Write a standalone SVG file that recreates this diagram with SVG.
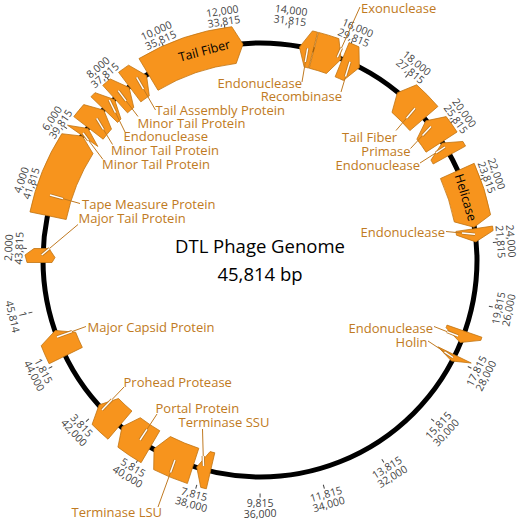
<svg xmlns="http://www.w3.org/2000/svg" width="520" height="520" viewBox="0 0 520 520">
<style>
.gene{fill:#F7941D;stroke:#C07312;stroke-width:0.8;stroke-linejoin:round}
.lbl{font-family:"Open Sans","Liberation Sans",sans-serif;font-size:13px;fill:#C07A22}
.end{text-anchor:end}
.ldr{stroke:#C07A22;stroke-width:1;fill:none}
.lin{stroke:#C07A22;stroke-width:3.2;stroke-linecap:butt}
.lhi{stroke:#FFFFFF;stroke-width:1.4}
.tk{font-family:"Open Sans","Liberation Sans",sans-serif;font-size:10.5px;fill:#444;text-anchor:middle}
.tkm{stroke:#444;stroke-width:1}
.inn{font-family:"Open Sans","Liberation Sans",sans-serif;font-size:12.5px;fill:#000;text-anchor:middle}
.ttl{font-family:"Open Sans","Liberation Sans",sans-serif;font-size:18.5px;fill:#000;text-anchor:middle}
</style>
<rect width="520" height="520" fill="#fff"/>
<circle cx="260" cy="260" r="217" fill="none" stroke="#000" stroke-width="5"/>
<g id="ticks">
<g transform="rotate(-87.18 260 260)"><text class="tk" x="260" y="12"><tspan x="260" y="12">2,000</tspan><tspan x="260" y="22.5">43,815</tspan></text><line class="tkm" x1="260" y1="22.5" x2="260" y2="26.5"/></g>
<g transform="rotate(-71.47 260 260)"><text class="tk" x="260" y="12"><tspan x="260" y="12">4,000</tspan><tspan x="260" y="22.5">41,815</tspan></text><line class="tkm" x1="260" y1="22.5" x2="260" y2="26.5"/></g>
<g transform="rotate(-55.75 260 260)"><text class="tk" x="260" y="12"><tspan x="260" y="12">6,000</tspan><tspan x="260" y="22.5">39,815</tspan></text><line class="tkm" x1="260" y1="22.5" x2="260" y2="26.5"/></g>
<g transform="rotate(-40.04 260 260)"><text class="tk" x="260" y="12"><tspan x="260" y="12">8,000</tspan><tspan x="260" y="22.5">37,815</tspan></text><line class="tkm" x1="260" y1="22.5" x2="260" y2="26.5"/></g>
<g transform="rotate(-24.32 260 260)"><text class="tk" x="260" y="12"><tspan x="260" y="12">10,000</tspan><tspan x="260" y="22.5">35,815</tspan></text><line class="tkm" x1="260" y1="22.5" x2="260" y2="26.5"/></g>
<g transform="rotate(-8.61 260 260)"><text class="tk" x="260" y="12"><tspan x="260" y="12">12,000</tspan><tspan x="260" y="22.5">33,815</tspan></text><line class="tkm" x1="260" y1="22.5" x2="260" y2="26.5"/></g>
<g transform="rotate(7.11 260 260)"><text class="tk" x="260" y="12"><tspan x="260" y="12">14,000</tspan><tspan x="260" y="22.5">31,815</tspan></text><line class="tkm" x1="260" y1="22.5" x2="260" y2="26.5"/></g>
<g transform="rotate(22.83 260 260)"><text class="tk" x="260" y="12"><tspan x="260" y="12">16,000</tspan><tspan x="260" y="22.5">29,815</tspan></text><line class="tkm" x1="260" y1="22.5" x2="260" y2="26.5"/></g>
<g transform="rotate(38.54 260 260)"><text class="tk" x="260" y="12"><tspan x="260" y="12">18,000</tspan><tspan x="260" y="22.5">27,815</tspan></text><line class="tkm" x1="260" y1="22.5" x2="260" y2="26.5"/></g>
<g transform="rotate(54.26 260 260)"><text class="tk" x="260" y="12"><tspan x="260" y="12">20,000</tspan><tspan x="260" y="22.5">25,815</tspan></text><line class="tkm" x1="260" y1="22.5" x2="260" y2="26.5"/></g>
<g transform="rotate(69.97 260 260)"><text class="tk" x="260" y="12"><tspan x="260" y="12">22,000</tspan><tspan x="260" y="22.5">23,815</tspan></text><line class="tkm" x1="260" y1="22.5" x2="260" y2="26.5"/></g>
<g transform="rotate(85.69 260 260)"><text class="tk" x="260" y="12"><tspan x="260" y="12">24,000</tspan><tspan x="260" y="22.5">21,815</tspan></text><line class="tkm" x1="260" y1="22.5" x2="260" y2="26.5"/></g>
<g transform="rotate(-78.59 260 260)"><text class="tk" x="260" y="507"><tspan x="260" y="507">19,815</tspan><tspan x="260" y="517.5">26,000</tspan></text><line class="tkm" x1="260" y1="493.5" x2="260" y2="497.5"/></g>
<g transform="rotate(-62.88 260 260)"><text class="tk" x="260" y="507"><tspan x="260" y="507">17,815</tspan><tspan x="260" y="517.5">28,000</tspan></text><line class="tkm" x1="260" y1="493.5" x2="260" y2="497.5"/></g>
<g transform="rotate(-47.16 260 260)"><text class="tk" x="260" y="507"><tspan x="260" y="507">15,815</tspan><tspan x="260" y="517.5">30,000</tspan></text><line class="tkm" x1="260" y1="493.5" x2="260" y2="497.5"/></g>
<g transform="rotate(-31.45 260 260)"><text class="tk" x="260" y="507"><tspan x="260" y="507">13,815</tspan><tspan x="260" y="517.5">32,000</tspan></text><line class="tkm" x1="260" y1="493.5" x2="260" y2="497.5"/></g>
<g transform="rotate(-15.73 260 260)"><text class="tk" x="260" y="507"><tspan x="260" y="507">11,815</tspan><tspan x="260" y="517.5">34,000</tspan></text><line class="tkm" x1="260" y1="493.5" x2="260" y2="497.5"/></g>
<g transform="rotate(-0.02 260 260)"><text class="tk" x="260" y="507"><tspan x="260" y="507">9,815</tspan><tspan x="260" y="517.5">36,000</tspan></text><line class="tkm" x1="260" y1="493.5" x2="260" y2="497.5"/></g>
<g transform="rotate(15.70 260 260)"><text class="tk" x="260" y="507"><tspan x="260" y="507">7,815</tspan><tspan x="260" y="517.5">38,000</tspan></text><line class="tkm" x1="260" y1="493.5" x2="260" y2="497.5"/></g>
<g transform="rotate(31.42 260 260)"><text class="tk" x="260" y="507"><tspan x="260" y="507">5,815</tspan><tspan x="260" y="517.5">40,000</tspan></text><line class="tkm" x1="260" y1="493.5" x2="260" y2="497.5"/></g>
<g transform="rotate(47.13 260 260)"><text class="tk" x="260" y="507"><tspan x="260" y="507">3,815</tspan><tspan x="260" y="517.5">42,000</tspan></text><line class="tkm" x1="260" y1="493.5" x2="260" y2="497.5"/></g>
<g transform="rotate(62.85 260 260)"><text class="tk" x="260" y="507"><tspan x="260" y="507">1,815</tspan><tspan x="260" y="517.5">44,000</tspan></text><line class="tkm" x1="260" y1="493.5" x2="260" y2="497.5"/></g>
<g transform="rotate(77.1 260 260)"><text class="tk" x="260" y="507"><tspan x="260" y="507">1</tspan><tspan x="260" y="517.5">45,814</tspan></text><line class="tkm" x1="260" y1="493.5" x2="260" y2="497.5"/></g>
</g>
<g id="genes">
<g id="g-major-tail"><polygon class="gene" points="25,255 34,248.5 49,248.5 55,257.5 52,262.5 27,262.5"/></g>
<g id="g-tape-measure"><path class="gene" d="M29.96,211.94 A235,235 0 0 1 61.80,133.73 L82.44,136.13 L93.01,153.61 A198,198 0 0 0 66.18,219.51 Z"/></g>
<g id="g-minor-tail-1"><path class="gene" d="M67.50,125.21 L88.01,128.50 L97.81,146.43 Z"/></g>
<g id="g-minor-tail-2"><path class="gene" d="M73.81,116.62 A235,235 0 0 1 83.72,104.59 L103.74,110.15 L111.48,129.06 A198,198 0 0 0 103.13,139.19 Z"/></g>
<g id="g-endonuclease-1"><path class="gene" d="M90.96,96.75 A235,235 0 0 1 94.99,92.67 L114.57,99.62 L120.97,119.02 A198,198 0 0 0 117.57,122.46 Z"/></g>
<g id="g-minor-tail-3"><path class="gene" d="M102.75,85.36 A235,235 0 0 1 110.20,78.93 L129.10,87.55 L133.79,107.44 A198,198 0 0 0 127.51,112.86 Z"/></g>
<g id="g-tail-assembly"><path class="gene" d="M118.57,72.32 A235,235 0 0 1 128.59,65.18 L146.56,75.60 L149.28,95.85 A198,198 0 0 0 140.84,101.87 Z"/></g>
<g id="g-tail-fiber-1"><path class="gene" d="M138.97,58.57 A235,235 0 0 1 231.77,26.70 L243.01,44.17 L236.21,63.43 A198,198 0 0 0 158.02,90.28 Z"/>
<text class="inn" transform="rotate(-14.9 260 260)" x="260" y="47.8">Tail Fiber</text></g>
<g id="g-endonuclease-2"><path class="gene" d="M317.65,32.18 A235,235 0 0 0 312.46,30.93 L299.45,47.13 L304.20,67.00 A198,198 0 0 1 308.57,68.05 Z"/></g>
<g id="g-exonuclease"><path class="gene" d="M318.44,32.38 A235,235 0 0 1 338.83,38.62 L341.10,59.27 L326.42,73.47 A198,198 0 0 0 309.24,68.22 Z"/></g>
<g id="g-recombinase"><path class="gene" d="M349.17,42.58 A235,235 0 0 1 358.95,46.85 L359.30,67.61 L343.37,80.41 A198,198 0 0 0 335.13,76.81 Z"/></g>
<g id="g-tail-fiber-2"><path class="gene" d="M437.90,106.45 A235,235 0 0 0 416.63,84.81 L397.42,92.70 L391.97,112.39 A198,198 0 0 1 409.89,130.62 Z"/></g>
<g id="g-primase"><path class="gene" d="M457.09,132.01 A235,235 0 0 0 446.19,116.61 L425.85,120.84 L416.87,139.19 A198,198 0 0 1 426.06,152.16 Z"/></g>
<g id="g-endonuclease-3"><path class="gene" d="M465.54,146.07 A235,235 0 0 0 462.90,141.44 L442.19,143.04 L430.95,160.10 A198,198 0 0 1 433.17,164.01 Z"/></g>
<g id="g-helicase"><path class="gene" d="M474.18,163.30 A235,235 0 0 1 490.60,214.76 L474.01,227.25 L454.30,221.88 A198,198 0 0 0 440.46,178.52 Z"/>
<text class="inn" transform="rotate(73.1 260 260)" x="260" y="49.3">Helicase</text></g>
<g id="g-endonuclease-4"><path class="gene" d="M492.54,226.08 A235,235 0 0 1 493.15,230.55 L475.74,241.88 L456.44,235.18 A198,198 0 0 0 455.93,231.42 Z"/></g>
<g id="g-endonuclease-5"><path class="gene" d="M481.93,337.28 A235,235 0 0 1 480.83,340.37 L460.17,342.50 L446.06,327.72 A198,198 0 0 0 446.99,325.12 Z"/></g>
<g id="g-holin"><path class="gene" d="M471.22,363.02 L451.51,360.97 L437.96,346.80 Z"/></g>
<g id="g-terminase-ssu"><path class="gene" d="M206.34,488.79 A235,235 0 0 1 200.76,487.41 L196.70,467.04 L210.09,451.61 A198,198 0 0 0 214.79,452.77 Z"/></g>
<g id="g-terminase-lsu"><path class="gene" d="M187.38,483.50 A235,235 0 0 1 153.68,469.57 L154.05,448.80 L170.42,436.58 A198,198 0 0 0 198.81,448.31 Z"/></g>
<g id="g-portal"><path class="gene" d="M141.08,462.69 A235,235 0 0 1 117.92,447.18 L122.00,426.82 L140.29,417.71 A198,198 0 0 0 159.81,430.78 Z"/></g>
<g id="g-prohead"><path class="gene" d="M108.00,439.23 A235,235 0 0 1 92.10,424.42 L99.11,404.87 L118.53,398.53 A198,198 0 0 0 131.94,411.01 Z"/></g>
<g id="g-major-capsid"><path class="gene" d="M49.14,363.75 A235,235 0 0 1 41.20,345.75 L55.30,330.49 L75.65,332.25 A198,198 0 0 0 82.34,347.42 Z"/></g>
</g>
<g id="connectors">
<line class="ldr" x1="41.7" y1="255" x2="78" y2="224.5"/>
<line class="ldr" x1="50" y1="195" x2="80" y2="203.5"/>
<line class="ldr" x1="83" y1="133" x2="103" y2="159.5"/>
<line class="ldr" x1="96.7" y1="118.3" x2="112.5" y2="144.5"/>
<line class="ldr" x1="109.3" y1="100" x2="125" y2="132"/>
<line class="ldr" x1="118.3" y1="90.7" x2="138" y2="116.5"/>
<line class="ldr" x1="136.7" y1="77.3" x2="155.5" y2="110"/>
<line class="ldr" x1="307.7" y1="48.3" x2="302" y2="82"/>
<line class="ldr" x1="337.3" y1="57.3" x2="360" y2="7"/>
<line class="ldr" x1="350" y1="61.7" x2="341" y2="92"/>
<line class="ldr" x1="415" y1="108.3" x2="396" y2="130.5"/>
<line class="ldr" x1="431" y1="126.5" x2="410.5" y2="148.5"/>
<line class="ldr" x1="445" y1="147" x2="420" y2="163"/>
<line class="ldr" x1="475" y1="234.3" x2="446" y2="231.5"/>
<line class="ldr" x1="458" y1="336" x2="434" y2="326.5"/>
<line class="ldr" x1="453" y1="357.5" x2="428" y2="341"/>
<line class="ldr" x1="57" y1="337" x2="86" y2="326.5"/>
<line class="ldr" x1="102" y1="410" x2="124" y2="387"/>
<line class="ldr" x1="140" y1="440" x2="157" y2="414"/>
<line class="ldr" x1="203.5" y1="466" x2="202.5" y2="429"/>
<line class="ldr" x1="175" y1="460" x2="158" y2="507"/>
<g class="lin">
<line x1="41.7" y1="255" x2="49.5" y2="248.5"/>
<line x1="50" y1="195" x2="63" y2="198.7"/>
<line x1="83" y1="133" x2="88.5" y2="140.3"/>
<line x1="96.7" y1="118.3" x2="103.5" y2="129.5"/>
<line x1="109.3" y1="100" x2="115.5" y2="112.6"/>
<line x1="118.3" y1="90.7" x2="126" y2="100.8"/>
<line x1="136.7" y1="77.3" x2="143.5" y2="89.1"/>
<line x1="307.7" y1="48.3" x2="305.3" y2="62"/>
<line x1="337.3" y1="57.3" x2="341.5" y2="48"/>
<line x1="350" y1="61.7" x2="345.5" y2="76.5"/>
<line x1="415" y1="108.3" x2="406.5" y2="118.2"/>
<line x1="431" y1="126.5" x2="422.5" y2="135.6"/>
<line x1="445" y1="147" x2="436" y2="152.8"/>
<line x1="475" y1="234.3" x2="462" y2="233"/>
<line x1="458" y1="336" x2="447" y2="331.6"/>
<line x1="453" y1="357.5" x2="444.5" y2="351.9"/>
<line x1="57" y1="337" x2="72" y2="331.6"/>
<line x1="102" y1="410" x2="112" y2="399.6"/>
<line x1="140" y1="440" x2="147" y2="429.3"/>
<line x1="203.5" y1="466" x2="203.2" y2="456"/>
<line x1="175" y1="460" x2="170.5" y2="472.5"/>
</g>
<g class="lhi">
<line x1="41.7" y1="255" x2="49.5" y2="248.5"/>
<line x1="50" y1="195" x2="63" y2="198.7"/>
<line x1="83" y1="133" x2="88.5" y2="140.3"/>
<line x1="96.7" y1="118.3" x2="103.5" y2="129.5"/>
<line x1="109.3" y1="100" x2="115.5" y2="112.6"/>
<line x1="118.3" y1="90.7" x2="126" y2="100.8"/>
<line x1="136.7" y1="77.3" x2="143.5" y2="89.1"/>
<line x1="307.7" y1="48.3" x2="305.3" y2="62"/>
<line x1="337.3" y1="57.3" x2="341.5" y2="48"/>
<line x1="350" y1="61.7" x2="345.5" y2="76.5"/>
<line x1="415" y1="108.3" x2="406.5" y2="118.2"/>
<line x1="431" y1="126.5" x2="422.5" y2="135.6"/>
<line x1="445" y1="147" x2="436" y2="152.8"/>
<line x1="475" y1="234.3" x2="462" y2="233"/>
<line x1="458" y1="336" x2="447" y2="331.6"/>
<line x1="453" y1="357.5" x2="444.5" y2="351.9"/>
<line x1="57" y1="337" x2="72" y2="331.6"/>
<line x1="102" y1="410" x2="112" y2="399.6"/>
<line x1="140" y1="440" x2="147" y2="429.3"/>
<line x1="203.5" y1="466" x2="203.2" y2="456"/>
<line x1="175" y1="460" x2="170.5" y2="472.5"/>
</g>
</g>
<g id="labels">
<text class="lbl" x="78.5" y="222.5">Major Tail Protein</text>
<text class="lbl" x="82" y="208.5">Tape Measure Protein</text>
<text class="lbl" x="102" y="168.5">Minor Tail Protein</text>
<text class="lbl" x="111" y="155">Minor Tail Protein</text>
<text class="lbl" x="123.5" y="141">Endonuclease</text>
<text class="lbl" x="137.5" y="127.8">Minor Tail Protein</text>
<text class="lbl" x="155.5" y="114.5">Tail Assembly Protein</text>
<text class="lbl" x="361" y="13">Exonuclease</text>
<text class="lbl end" x="302" y="87.5">Endonuclease</text>
<text class="lbl end" x="342" y="101">Recombinase</text>
<text class="lbl end" x="397" y="141.5">Tail Fiber</text>
<text class="lbl end" x="410.5" y="155.5">Primase</text>
<text class="lbl end" x="420" y="169.5">Endonuclease</text>
<text class="lbl end" x="445" y="237">Endonuclease</text>
<text class="lbl end" x="433" y="332.5">Endonuclease</text>
<text class="lbl end" x="427.5" y="346.5">Holin</text>
<text class="lbl" x="87.5" y="332">Major Capsid Protein</text>
<text class="lbl" x="123.5" y="386.5">Prohead Protease</text>
<text class="lbl" x="155.5" y="413">Portal Protein</text>
<text class="lbl" x="178.5" y="426.5">Terminase SSU</text>
<text class="lbl" x="71.5" y="517">Terminase LSU</text>
</g>
<g id="title">
<text class="ttl" x="260" y="253">DTL Phage Genome</text>
<text class="ttl" x="260" y="281">45,814 bp</text>
</g>
</svg>
